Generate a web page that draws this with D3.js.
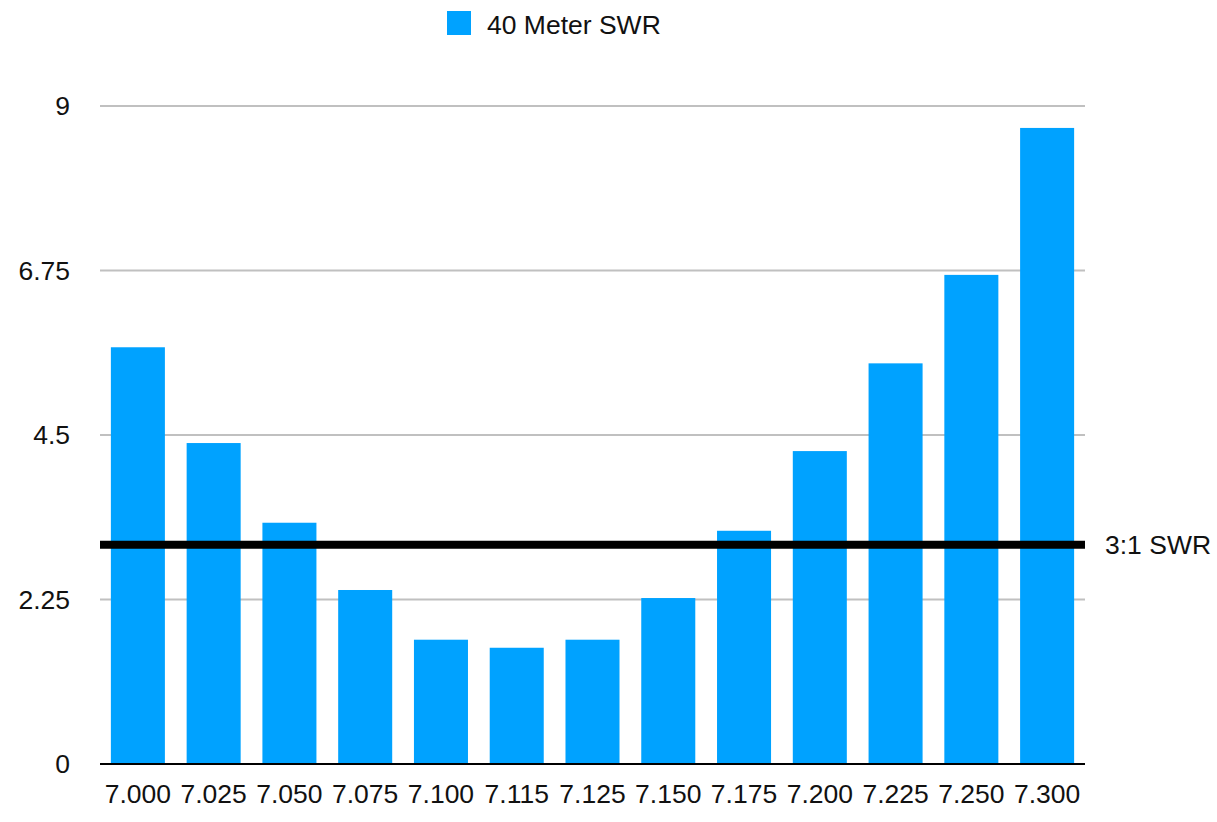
<!DOCTYPE html>
<html>
<head>
<meta charset="utf-8">
<script src="https://cdn.jsdelivr.net/npm/d3@7"></script>
<style>
  body { margin: 0; background: #fff; }
  text { font-family: "Liberation Sans", Arial, sans-serif; }
</style>
</head>
<body>
<svg id="chart"></svg>
<script>
var width = 1217;
var height = 822;

// data
var freqs = ["7.000","7.025","7.050","7.075","7.100","7.115","7.125","7.150","7.175","7.200","7.225","7.250","7.300"];
var swr = [5.70, 4.39, 3.30, 2.38, 1.70, 1.59, 1.70, 2.27, 3.19, 4.28, 5.48, 6.69, 8.70];
var yTicks = [0, 2.25, 4.5, 6.75, 9];
var seriesName = "40 Meter SWR";
var limit = 3;
var limitLabel = "3:1 SWR";

var barColor = "#00a2ff";
var fontSize = 26.5;

var svg = d3.select("#chart")
            .attr("width", width)
            .attr("height", height);

var plotLeft = 100, plotRight = 1085, plotTop = 106, plotBottom = 764;

var x = d3.scaleBand()
          .domain(freqs)
          .range([plotLeft, plotRight])
          .paddingInner(0.287)
          .paddingOuter(0.1435);

var y = d3.scaleLinear()
          .domain([0, 9])
          .range([plotBottom, plotTop]);

// gridlines
svg.append("g")
   .selectAll("line")
   .data(yTicks.filter(d => d > 0))
   .enter()
   .append("line")
   .attr("x1", plotLeft)
   .attr("x2", plotRight)
   .attr("y1", d => y(d))
   .attr("y2", d => y(d))
   .attr("stroke", "#c0c0c0")
   .attr("stroke-width", 2);

// y labels
svg.append("g")
   .selectAll("text")
   .data(yTicks)
   .enter()
   .append("text")
   .attr("x", 70)
   .attr("y", d => y(d))
   .attr("dy", "0.35em")
   .attr("text-anchor", "end")
   .attr("font-size", fontSize)
   .attr("fill", "#111")
   .text(d => d);

// bars
svg.append("g")
   .selectAll("rect")
   .data(swr)
   .enter()
   .append("rect")
   .attr("x", (d, i) => x(freqs[i]))
   .attr("width", x.bandwidth())
   .attr("y", d => y(d))
   .attr("height", d => y(0) - y(d))
   .attr("fill", barColor);

// x axis line
svg.append("line")
   .attr("x1", plotLeft)
   .attr("x2", plotRight)
   .attr("y1", y(0))
   .attr("y2", y(0))
   .attr("stroke", "#000")
   .attr("stroke-width", 2);

// x labels
svg.append("g")
   .selectAll("text")
   .data(freqs)
   .enter()
   .append("text")
   .attr("x", d => x(d) + x.bandwidth() / 2)
   .attr("y", 803)
   .attr("text-anchor", "middle")
   .attr("font-size", fontSize)
   .attr("fill", "#111")
   .text(d => d);

// 3:1 line
svg.append("line")
   .attr("x1", plotLeft)
   .attr("x2", plotRight)
   .attr("y1", y(limit))
   .attr("y2", y(limit))
   .attr("stroke", "#000")
   .attr("stroke-width", 8);

svg.append("text")
   .attr("x", 1105)
   .attr("y", y(limit))
   .attr("dy", "0.35em")
   .attr("font-size", fontSize)
   .attr("fill", "#111")
   .text(limitLabel);

// legend
svg.append("rect")
   .attr("x", 447)
   .attr("y", 11)
   .attr("width", 24)
   .attr("height", 24)
   .attr("fill", barColor);

svg.append("text")
   .attr("x", 487)
   .attr("y", 34)
   .attr("font-size", fontSize)
   .attr("fill", "#111")
   .text(seriesName);
</script>
</body>
</html>
